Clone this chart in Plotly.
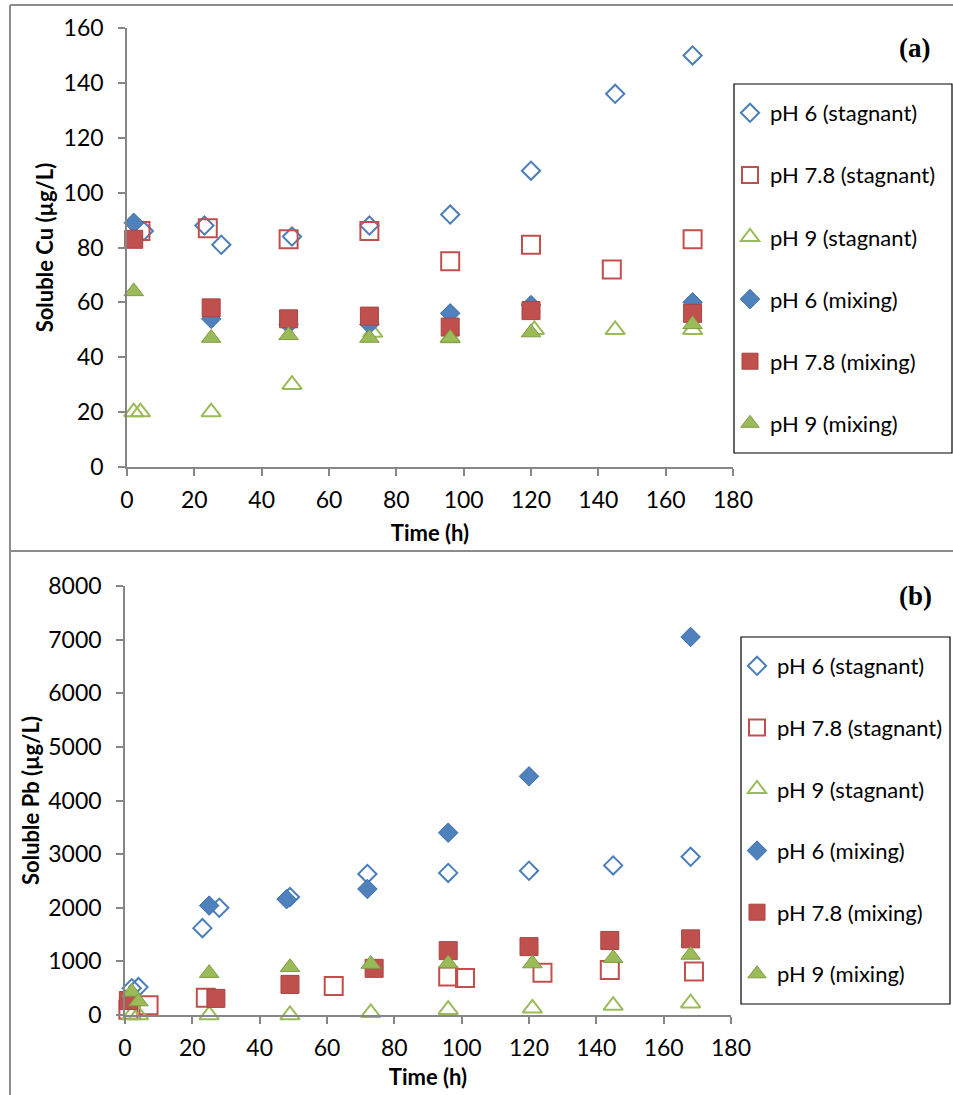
import plotly.graph_objects as go

W, H = 953, 1095

# ---------------- data: (a) soluble Cu ----------------
cu_t_ph6_stag = [5, 23, 28, 49, 72, 96, 120, 145, 168]
cu_ph6_stag = [86, 88, 81, 84, 88, 92, 108, 136, 150]
cu_t_ph78_stag = [4, 24, 48, 72, 96, 120, 144, 168]
cu_ph78_stag = [86, 87, 83, 86, 75, 81, 72, 83]
cu_t_ph9_stag = [2, 4, 25, 49, 73, 96, 121, 145, 168]
cu_ph9_stag = [20, 20, 20, 30, 49, 47, 50, 50, 50]
cu_t_mix = [2, 25, 48, 72, 96, 120, 168]
cu_ph6_mix = [89, 54, 52, 52, 56, 59, 60]
cu_ph78_mix = [83, 58, 54, 55, 51, 57, 56]
cu_ph9_mix = [64, 47, 48, 47, 47, 49, 52]

# ---------------- data: (b) soluble Pb ----------------
pb_t_ph6_stag = [2, 4, 23, 28, 49, 72, 96, 120, 145, 168]
pb_ph6_stag = [500, 520, 1620, 2000, 2200, 2630, 2650, 2690, 2790, 2950]
pb_t_ph78_stag = [1, 7, 24, 62, 96, 101, 124, 144, 169]
pb_ph78_stag = [100, 180, 320, 540, 720, 690, 790, 840, 810]
pb_t_ph9_stag = [2, 4, 25, 49, 73, 96, 121, 145, 168]
pb_ph9_stag = [0, 0, 0, 0, 40, 100, 125, 175, 220]
pb_t_ph6_mix = [25, 48, 72, 96, 120, 168]
pb_ph6_mix = [2040, 2160, 2350, 3400, 4450, 7050]
pb_t_ph78_mix = [1, 27, 49, 74, 96, 120, 144, 168]
pb_ph78_mix = [270, 310, 570, 870, 1200, 1275, 1390, 1420]
pb_t_ph9_mix = [2, 4, 25, 49, 73, 96, 121, 145, 168]
pb_ph9_mix = [430, 250, 780, 890, 950, 960, 960, 1060, 1120]

series_names = ["pH 6 (stagnant)", "pH 7.8 (stagnant)", "pH 9 (stagnant)",
                "pH 6 (mixing)", "pH 7.8 (mixing)", "pH 9 (mixing)"]

BLUE, RED, GREEN = "#4A7EBB", "#C0504D", "#9BBB59"
styles = [
    dict(symbol="diamond-open", size=14, color=BLUE, line=dict(color=BLUE, width=2)),
    dict(symbol="square-open", size=18, color=RED, line=dict(color=RED, width=2)),
    dict(symbol="triangle-up-open", size=17, color=GREEN, line=dict(color=GREEN, width=2)),
    dict(symbol="diamond", size=15, color="#4F81BD", line=dict(color="#3D6DA6", width=1)),
    dict(symbol="square", size=18, color=RED, line=dict(color="#A94441", width=1)),
    dict(symbol="triangle-up", size=17, color=GREEN, line=dict(color="#7F9C45", width=1)),
]

cu_sets = [(cu_t_ph6_stag, cu_ph6_stag), (cu_t_ph78_stag, cu_ph78_stag),
           (cu_t_ph9_stag, cu_ph9_stag), (cu_t_mix, cu_ph6_mix),
           (cu_t_mix, cu_ph78_mix), (cu_t_mix, cu_ph9_mix)]
pb_sets = [(pb_t_ph6_stag, pb_ph6_stag), (pb_t_ph78_stag, pb_ph78_stag),
           (pb_t_ph9_stag, pb_ph9_stag), (pb_t_ph6_mix, pb_ph6_mix),
           (pb_t_ph78_mix, pb_ph78_mix), (pb_t_ph9_mix, pb_ph9_mix)]


def px(x):
    return x / W


def py(y):
    return 1 - y / H


fig = go.Figure()
for i, (t, v) in enumerate(cu_sets):
    fig.add_trace(go.Scatter(x=t, y=v, mode="markers", name=series_names[i],
                             marker=styles[i], xaxis="x", yaxis="y",
                             legend="legend", legendgroup="a%d" % i,
                             cliponaxis=False))
for i, (t, v) in enumerate(pb_sets):
    fig.add_trace(go.Scatter(x=t, y=v, mode="markers", name=series_names[i],
                             marker=styles[i], xaxis="x2", yaxis="y2",
                             legend="legend2", legendgroup="b%d" % i,
                             cliponaxis=False))

FONT = "Lato"
AX = "#868686"
tickfont = dict(family=FONT, size=23, color="black")
titlefont = dict(family=FONT, size=22, color="black", weight="bold")

common_x = dict(range=[0, 180], dtick=20, showgrid=False, zeroline=False,
                showline=True, linecolor=AX, linewidth=1.5, ticks="outside",
                ticklen=7, tickcolor=AX, tickwidth=1.5, tickfont=tickfont,
                ticklabelstandoff=5, automargin=False)
common_y = dict(showgrid=False, zeroline=False, showline=True, linecolor=AX,
                linewidth=1.5, ticks="outside", ticklen=7, tickcolor=AX,
                tickwidth=1.5, tickfont=tickfont, ticklabelstandoff=10,
                automargin=False)

fig.update_layout(
    width=W, height=H, margin=dict(l=0, r=0, t=0, b=0, autoexpand=False),
    paper_bgcolor="white", plot_bgcolor="white",
    font=dict(family=FONT, color="black"),
    xaxis=dict(common_x, domain=[px(127), px(733)], anchor="y",
               title=dict(text="Time (h)", font=titlefont, standoff=13)),
    yaxis=dict(common_y, domain=[py(467), py(28)], anchor="x", range=[0, 160], dtick=20,
               title=dict(text="Soluble Cu (µg/L)", font=titlefont, standoff=4)),
    xaxis2=dict(common_x, domain=[px(125), px(731)], anchor="y2",
                title=dict(text="Time (h)", font=titlefont, standoff=9)),
    yaxis2=dict(common_y, domain=[py(1015), py(586)], anchor="x2", range=[0, 8000], dtick=1000,
                title=dict(text="Soluble Pb (µg/L)", font=titlefont, standoff=3)),
    legend=dict(x=px(730), y=py(92), xanchor="left", yanchor="top",
                bgcolor="rgba(0,0,0,0)", borderwidth=0,
                font=dict(family=FONT, size=22, color="black"),
                traceorder="grouped", tracegroupgap=30.5),
    legend2=dict(x=px(737), y=py(645), xanchor="left", yanchor="top",
                 bgcolor="rgba(0,0,0,0)", borderwidth=0,
                 font=dict(family=FONT, size=22, color="black"),
                 traceorder="grouped", tracegroupgap=30),
    showlegend=True,
)

# outer frames and legend boxes
FR = "#8C8C8C"
shapes = [
    dict(type="line", x0=px(10), x1=1, y0=py(5), y1=py(5), line=dict(color=FR, width=2)),
    dict(type="line", x0=px(10), x1=px(10), y0=py(5), y1=0, line=dict(color=FR, width=2)),
    dict(type="line", x0=px(10), x1=1, y0=py(551), y1=py(551), line=dict(color=FR, width=2)),
    dict(type="rect", x0=px(734), x1=px(952), y0=py(453), y1=py(84),
         line=dict(color="black", width=1.2)),
    dict(type="rect", x0=px(741), x1=px(950), y0=py(1004), y1=py(637),
         line=dict(color="black", width=1.2)),
]
for s in shapes:
    s.update(xref="paper", yref="paper")
fig.update_layout(shapes=shapes)

fig.add_annotation(x=px(914), y=py(48), xref="paper", yref="paper", text="(a)",
                   xanchor="center", yanchor="middle", showarrow=False,
                   font=dict(family="Liberation Serif", size=27, color="black", weight="bold"))
fig.add_annotation(x=px(915), y=py(596), xref="paper", yref="paper", text="(b)",
                   xanchor="center", yanchor="middle", showarrow=False,
                   font=dict(family="Liberation Serif", size=27, color="black", weight="bold"))

fig.write_html("out.html")
